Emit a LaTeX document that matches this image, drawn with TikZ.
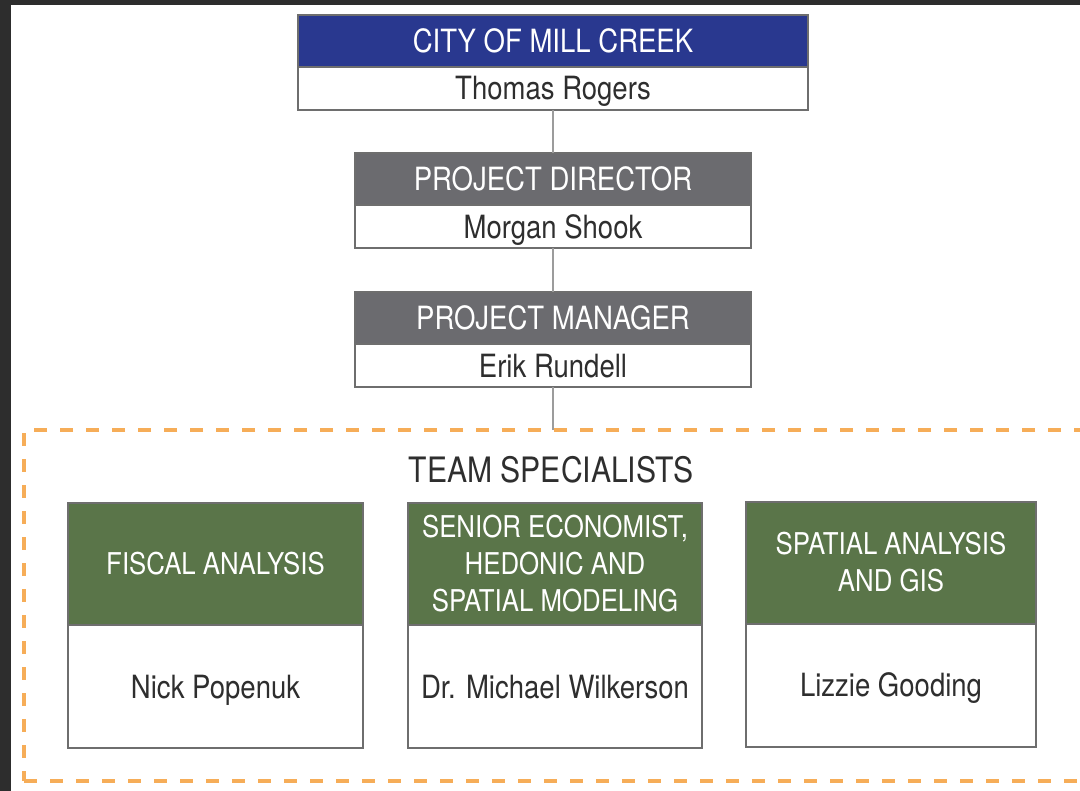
\documentclass[tikz,border=0pt]{standalone}
\usepackage{fontspec}
\setmainfont{TeX Gyre Heros}[FakeStretch=0.86]
\usetikzlibrary{positioning}

\definecolor{cityblue}{HTML}{29388F}
\definecolor{roleGray}{HTML}{6B6B6F}
\definecolor{teamGreen}{HTML}{5A7549}
\definecolor{frameOrange}{HTML}{F6AD58}
\definecolor{edgeGray}{HTML}{6E6E6E}
\definecolor{linkGray}{HTML}{9C9C9C}
\definecolor{nameText}{HTML}{2E2E2E}
\definecolor{screenDark}{HTML}{2D2D2D}

\tikzset{
  head/.style={rectangle, draw=edgeGray, line width=1pt, inner sep=0pt, outer sep=0pt,
    text=white, align=center, font=\fontsize{16}{19}\selectfont},
  person/.style={rectangle, draw=edgeGray, line width=1pt, fill=white, inner sep=0pt, outer sep=0pt,
    text=nameText, text height=11.5pt, text depth=0pt, font=\fontsize{16}{19}\selectfont},
  teamhead/.style={head, fill=teamGreen, minimum height=61pt,
    font=\fontsize{15}{18.5}\selectfont},
  teamperson/.style={person, minimum height=61.5pt},
  link/.style={draw=linkGray, line width=0.8pt},
  teamframe/.style={rectangle, draw=frameOrange, line width=2pt, outer sep=0pt,
    dash pattern=on 6.5pt off 6.5pt, minimum width=529pt, minimum height=175.5pt}
}

\begin{document}
\begin{tikzpicture}[x=0.5pt,y=-0.5pt]
  % page with the dark screen edge on top and left
  \fill[screenDark] (0,0) rectangle (1080,791);
  \fill[white] (11,5) rectangle (1080,791);
  \useasboundingbox (0,0) rectangle (1080,791);
  \clip (0,0) rectangle (1080,791);

  % client
  \node[head, fill=cityblue, minimum width=255pt, minimum height=26pt] (city) at (553,41) {CITY OF MILL CREEK};
  \node[person, minimum width=255pt, minimum height=21.5pt, below=0pt of city] (cityname) {Thomas Rogers};

  % project leads
  \node[head, fill=roleGray, minimum width=198pt, minimum height=26pt] (director) at (553,179) {PROJECT DIRECTOR};
  \node[person, minimum width=198pt, minimum height=21.5pt, below=0pt of director] (directorname) {Morgan Shook};
  \node[head, fill=roleGray, minimum width=198pt, minimum height=26pt] (manager) at (553,318) {PROJECT MANAGER};
  \node[person, minimum width=198pt, minimum height=21.5pt, below=0pt of manager] (managername) {Erik Rundell};

  % specialists
  \node[teamframe] (team) at (553,605.5) {};
  \node[text=nameText, font=\fontsize{17.5}{20}\selectfont] (teamtitle) at (551,470) {TEAM SPECIALISTS};

  \node[teamhead, minimum width=147.5pt] (fiscal) at (215.5,564) {FISCAL ANALYSIS};
  \node[teamperson, minimum width=147.5pt, below=0pt of fiscal] (fiscalname) {Nick Popenuk};
  \node[teamhead, minimum width=147pt] (hedonic) at (555,564) {SENIOR ECONOMIST,\\HEDONIC AND\\SPATIAL MODELING};
  \node[teamperson, minimum width=147pt, below=0pt of hedonic] (hedonicname) {Dr. Michael Wilkerson};
  \node[teamhead, minimum width=145pt] (gis) at (891,562.5) {SPATIAL ANALYSIS\\AND GIS};
  \node[teamperson, minimum width=145pt, below=0pt of gis] (gisname) {Lizzie Gooding};

  \draw[link] (cityname) -- (director);
  \draw[link] (directorname) -- (manager);
  \draw[link] (managername) -- (team.north);
\end{tikzpicture}
\end{document}
